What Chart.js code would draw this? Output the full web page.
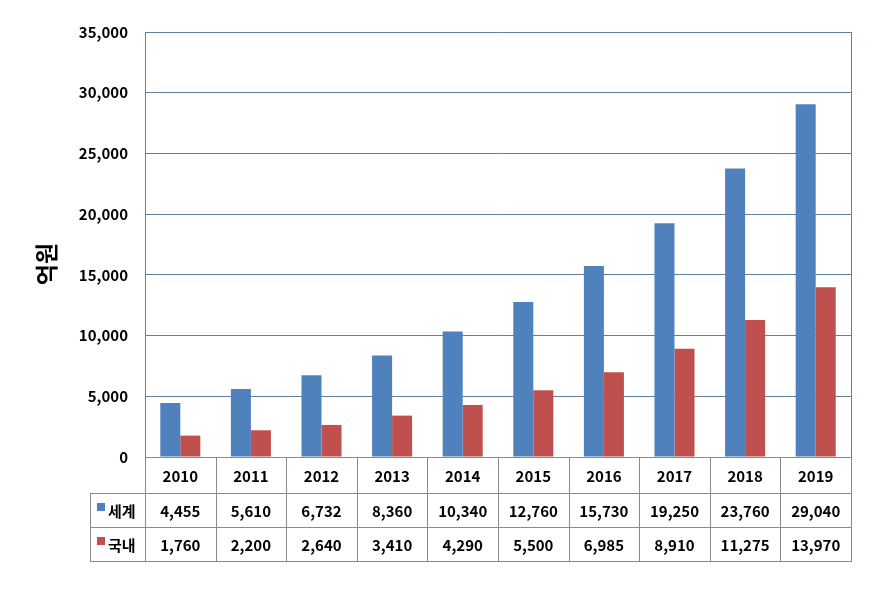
<!DOCTYPE html>
<html>
<head>
<meta charset="utf-8">
<title>억원</title>
<script src="https://cdn.jsdelivr.net/npm/chart.js@4.4.0/dist/chart.umd.min.js"></script>
<style>
	html, body { margin: 0; padding: 0; background: #fff; }
	#wrap { width: 891px; height: 614px; }
</style>
</head>
<body>
<div id="wrap"><canvas id="myChart" width="891" height="614"></canvas></div>
<script>
	// dane
	const years = ['2010', '2011', '2012', '2013', '2014', '2015', '2016', '2017', '2018', '2019'];
	const world = [4455, 5610, 6732, 8360, 10340, 12760, 15730, 19250, 23760, 29040];
	const domestic = [1760, 2200, 2640, 3410, 4290, 5500, 6985, 8910, 11275, 13970];
	const seriesNames = ['세계', '국내'];
	const seriesColors = ['#4f81bd', '#c0504d'];
	const axisTitle = '억원';

	const FONT = "'Noto Sans CJK KR', 'Noto Sans', sans-serif";
	const fmt = v => v.toLocaleString('en-US');

	// tabela danych pod wykresem
	const dataTable = {
		id: 'dataTable',
		afterDraw(chart) {
			const ctx = chart.ctx;
			const a = chart.chartArea;
			const x = chart.scales.x;
			const rows = [a.bottom, 493, 527, 561];
			const legendLeft = 90;
			const colW = (a.right - a.left) / years.length;

			ctx.save();
			// prawa krawędź obszaru wykresu
			ctx.strokeStyle = '#5f7f9a';
			ctx.lineWidth = 1;
			ctx.beginPath();
			ctx.moveTo(a.right + 0.5, a.top);
			ctx.lineTo(a.right + 0.5, a.bottom);
			ctx.stroke();

			// linie tabeli
			ctx.strokeStyle = '#8a8a8a';
			ctx.beginPath();
			ctx.moveTo(a.left, rows[0] + 0.5);
			ctx.lineTo(a.right + 1, rows[0] + 0.5);
			for (let r = 1; r < rows.length; r++) {
				ctx.moveTo(legendLeft, rows[r] + 0.5);
				ctx.lineTo(a.right + 1, rows[r] + 0.5);
			}
			for (let i = 0; i <= years.length; i++) {
				const lx = Math.round(a.left + colW * i) + 0.5;
				ctx.moveTo(lx, rows[0]);
				ctx.lineTo(lx, rows[3] + 1);
			}
			ctx.moveTo(legendLeft + 0.5, rows[1]);
			ctx.lineTo(legendLeft + 0.5, rows[3] + 1);
			ctx.stroke();

			// tekst
			ctx.fillStyle = '#000';
			ctx.font = 'bold 15px ' + FONT;
			ctx.textAlign = 'center';
			ctx.textBaseline = 'middle';
			const rowData = [years, world.map(fmt), domestic.map(fmt)];
			for (let r = 0; r < 3; r++) {
				const cy = (rows[r] + rows[r + 1]) / 2 + 1;
				for (let i = 0; i < years.length; i++) {
					ctx.fillText(rowData[r][i], x.getPixelForValue(i), cy);
				}
			}

			// legenda w tabeli
			ctx.textAlign = 'left';
			for (let s = 0; s < 2; s++) {
				const cy = (rows[s + 1] + rows[s + 2]) / 2 + 1;
				ctx.fillStyle = seriesColors[s];
				ctx.fillRect(97, cy - 8, 8, 8);
				ctx.fillStyle = '#000';
				ctx.fillText(seriesNames[s], 108, cy);
			}

			// tytuł osi Y
			ctx.translate(46, 264);
			ctx.rotate(-Math.PI / 2);
			ctx.textAlign = 'center';
			ctx.font = 'bold 23px ' + FONT;
			ctx.fillText(axisTitle, 0, 0);
			ctx.restore();
		}
	};

	const chart = new Chart(document.getElementById('myChart').getContext('2d'), {
		type: 'bar',
		data: {
			labels: years,
			datasets: [{
				label: seriesNames[0],
				data: world,
				backgroundColor: seriesColors[0]
			}, {
				label: seriesNames[1],
				data: domestic,
				backgroundColor: seriesColors[1]
			}]
		},
		options: {
			responsive: false,
			animation: false,
			layout: { padding: { top: 32, right: 40, bottom: 157, left: 0 } },
			datasets: { bar: { categoryPercentage: 0.567, barPercentage: 1 } },
			plugins: {
				legend: { display: false },
				tooltip: { enabled: false }
			},
			scales: {
				x: { display: false },
				y: {
					min: 0,
					max: 35000,
					afterFit(scale) { scale.width = 145; },
					ticks: {
						stepSize: 5000,
						padding: 17,
						color: '#000',
						font: { family: FONT, size: 15, weight: 'bold' },
						callback: v => fmt(v)
					},
					grid: { color: '#5f7f9a', drawTicks: false },
					border: { color: '#5f7f9a' }
				}
			}
		},
		plugins: [dataTable]
	});
</script>
</body>
</html>
